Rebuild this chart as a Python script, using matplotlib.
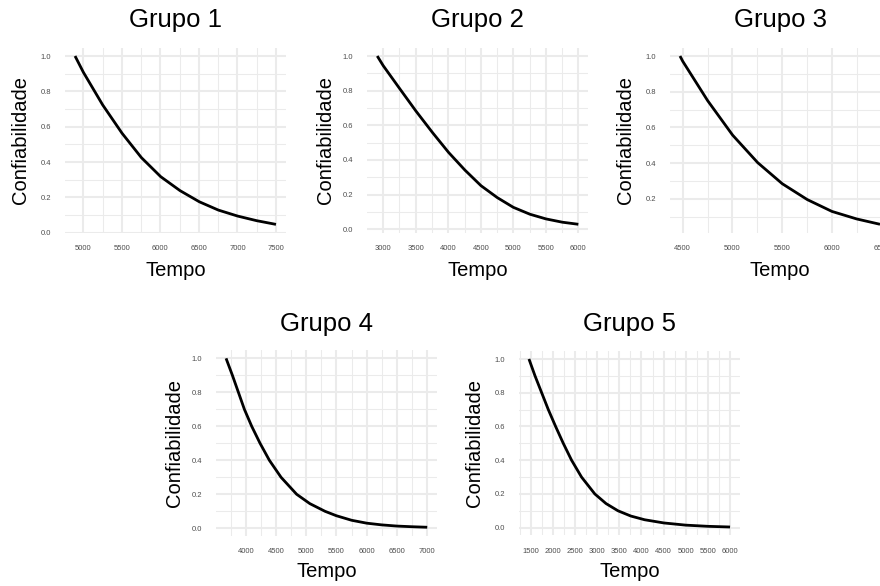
import matplotlib.pyplot as plt
from matplotlib.ticker import MultipleLocator, FormatStrFormatter

plt.rcParams['font.family'] = ['Liberation Sans', 'DejaVu Sans']

# reliability curves
tempo_1 = [4892, 5000, 5251, 5502, 5753, 6004, 6255, 6505, 6752, 7003, 7249, 7500]
conf_1 = [1.0, 0.908, 0.723, 0.563, 0.425, 0.317, 0.238, 0.175, 0.128, 0.094, 0.068, 0.047]

tempo_2 = [2908, 3000, 3256, 3503, 3759, 4005, 4256, 4503, 4754, 5000, 5256, 5503, 5754, 6000]
conf_2 = [1.0, 0.944, 0.810, 0.682, 0.557, 0.443, 0.341, 0.251, 0.182, 0.126, 0.086, 0.059, 0.040, 0.028]

tempo_3 = [4473, 4500, 4751, 5002, 5254, 5501, 5753, 6000, 6248, 6483]
conf_3 = [1.0, 0.971, 0.750, 0.557, 0.403, 0.285, 0.196, 0.130, 0.088, 0.058]

tempo_4 = [3675, 3780, 3879, 3978, 4099, 4237, 4391, 4584, 4842, 5060, 5310, 5497,
           5751, 6000, 6246, 6499, 6752, 7000]
conf_4 = [1.0, 0.9, 0.8, 0.7, 0.6, 0.5, 0.4, 0.3, 0.2, 0.145, 0.1, 0.074,
          0.047, 0.030, 0.020, 0.013, 0.009, 0.006]

tempo_5 = [1460, 1597, 1747, 1897, 2062, 2235, 2422, 2647, 2947, 3200, 3471, 3760, 4071,
           4506, 5001, 5503, 6000]
conf_5 = [1.0, 0.9, 0.8, 0.7, 0.6, 0.5, 0.4, 0.3, 0.2, 0.143, 0.1, 0.069, 0.047,
          0.028, 0.015, 0.008, 0.004]

grupos = ['Grupo 1', 'Grupo 2', 'Grupo 3', 'Grupo 4', 'Grupo 5']
tempos = [tempo_1, tempo_2, tempo_3, tempo_4, tempo_5]
confs = [conf_1, conf_2, conf_3, conf_4, conf_5]

W, H = 880, 586
# panel boxes in pixels: left, top, right, bottom (panel 3 runs past the right edge)
boxes = [(65, 47.6, 286, 232.8),
         (367.2, 47.6, 588.4, 232.7),
         (670, 47.6, 890, 232.7),
         (216, 349.9, 437.3, 535.7),
         (518.9, 350.6, 740.1, 535.4)]
title_y = [20, 20.5, 20, 324.5, 324.5]
xlabel_y = [270, 270, 270, 571.7, 571.7]
ylabel_off = [44.3, 42, 45, 42, 44]

fig = plt.figure(figsize=(W / 100, H / 100), dpi=100)

for i in range(5):
    l, t, r, b = boxes[i]
    ax = fig.add_axes([l / W, 1 - b / H, (r - l) / W, (b - t) / H])
    ax.plot(tempos[i], confs[i], color='black', lw=2.0, solid_capstyle='butt',
            solid_joinstyle='round')
    ax.margins(0.05)

    ax.xaxis.set_major_locator(MultipleLocator(500))
    ax.xaxis.set_minor_locator(MultipleLocator(250))
    ax.yaxis.set_major_locator(MultipleLocator(0.2))
    ax.yaxis.set_minor_locator(MultipleLocator(0.1))
    ax.xaxis.set_major_formatter(FormatStrFormatter('%d'))
    ax.yaxis.set_major_formatter(FormatStrFormatter('%.1f'))

    ax.grid(True, which='major', color='#EBEBEB', lw=1.5)
    ax.grid(True, which='minor', color='#EBEBEB', lw=0.75)
    ax.set_axisbelow(True)
    for s in ax.spines.values():
        s.set_visible(False)
    ax.tick_params(which='both', length=0)
    ax.tick_params(axis='x', labelsize=5.5, labelcolor='#4D4D4D', pad=9)
    ax.tick_params(axis='y', labelsize=5.5, labelcolor='#4D4D4D', pad=10)

    cx = (l + r) / 2
    cy = (t + b) / 2
    fig.text(cx / W, 1 - title_y[i] / H, grupos[i], fontsize=18.5, ha='center', va='center')
    fig.text(cx / W, 1 - xlabel_y[i] / H, 'Tempo', fontsize=14.5, ha='center', va='center')
    fig.text((l - ylabel_off[i]) / W, 1 - cy / H, 'Confiabilidade', fontsize=14.5,
             rotation=90, ha='center', va='center')

fig.savefig('out.png', dpi=100, facecolor='white')
